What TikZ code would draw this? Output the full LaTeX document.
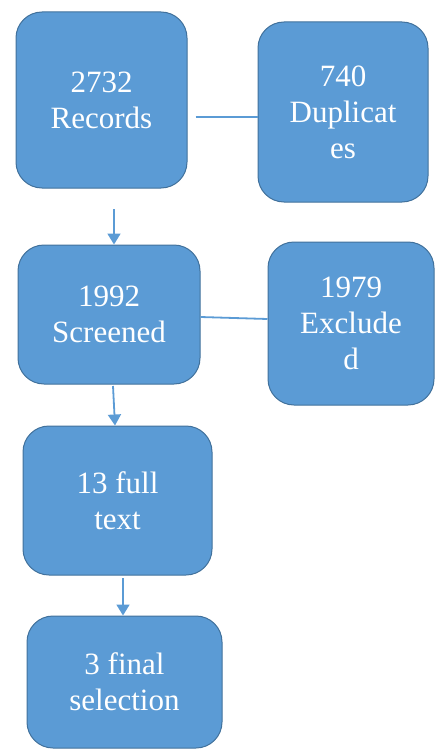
\documentclass[tikz,border=0pt]{standalone}
\usepackage{fontspec}
\newfontfamily\boxfont{Liberation Serif}[Scale=1.0]
\usetikzlibrary{arrows.meta,calc}
\definecolor{boxfill}{HTML}{5B9BD5}
\definecolor{boxline}{HTML}{41719C}
\tikzset{
  box/.style={draw=boxline, line width=1pt, fill=boxfill, rounded corners=26pt,
    text=white, align=center, inner sep=0pt,
    font=\boxfont\fontsize{31pt}{36pt}\selectfont},
  conn/.style={draw=boxfill, line width=1.8pt},
  arr/.style={conn, -{Triangle[width=13pt,length=11pt]}}
}
\begin{document}
\begin{tikzpicture}[x=1pt,y=1pt]
\useasboundingbox (0,0) rectangle (435,-749);
\node[box, minimum width=171pt, minimum height=176pt] (b1) at (101.5,-100) {2732\\Records};
\node[box, minimum width=170pt, minimum height=180pt] (b2) at (343,-112) {740\\Duplicat\\es};
\node[box, minimum width=182pt, minimum height=139pt] (b3) at (109,-314.5) {1992\\Screened};
\node[box, minimum width=166pt, minimum height=163pt] (b4) at (351,-323.5) {1979\\Exclude\\d};
\node[box, minimum width=189pt, minimum height=149pt] (b5) at (117.5,-500.5) {13 full\\text};
\node[box, minimum width=195pt, minimum height=132pt] (b6) at (124.5,-682) {3 final\\selection};
\coordinate (a1s) at (114,-209);
\coordinate (a2s) at (113,-386);
\coordinate (a3s) at (123,-578);
\draw[conn, shorten <=8pt] ([yshift=-17pt]b1.east) -- ([yshift=-5pt]b2.west);
\draw[conn] ([yshift=-2.5pt]b3.east) -- ([yshift=4.5pt]b4.west);
\draw[arr] (a1s) -- (a1s |- b3.north);
\draw[arr] (a2s) -- ([xshift=-2.5pt]b5.north);
\draw[arr] (a3s) -- (a3s |- b6.north);
\end{tikzpicture}
\end{document}
